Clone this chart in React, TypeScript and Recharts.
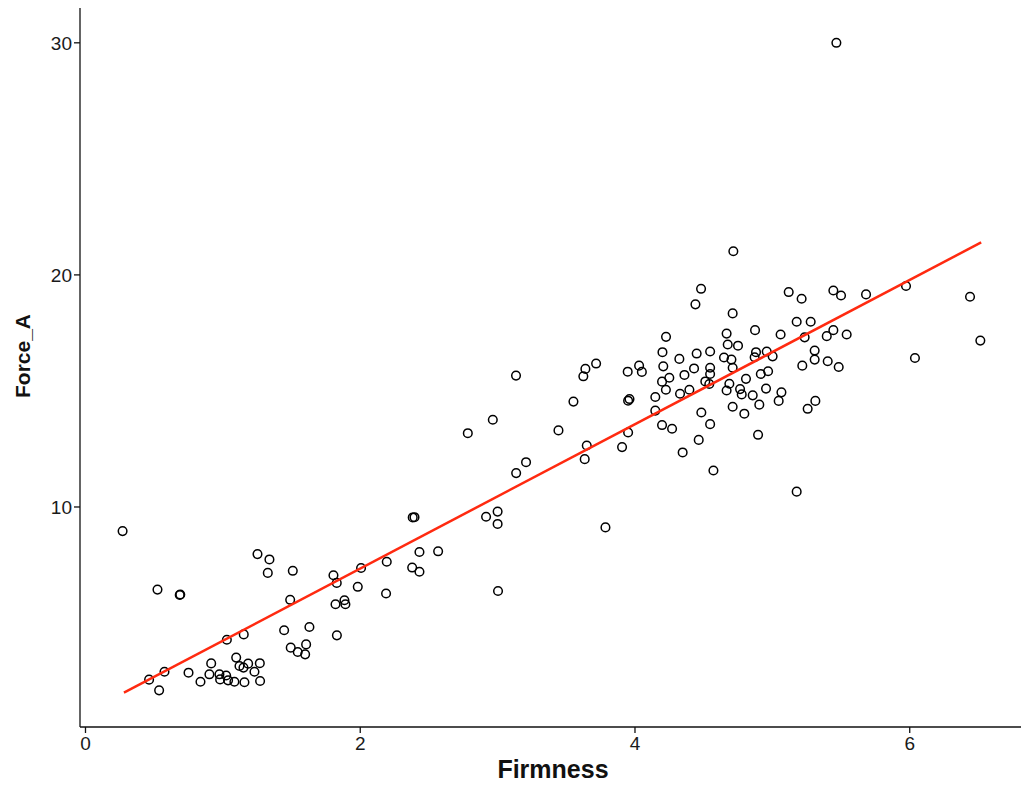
import { ScatterChart, Scatter, XAxis, YAxis } from 'recharts';

// Firmness (x) and Force_A (y)
const firmness = [
  0.27, 0.524, 0.686, 0.69, 1.252, 1.339, 1.327, 1.509, 1.49, 1.446, 1.494, 1.545, 1.606, 1.599, 1.63,
  1.029, 1.152, 0.915, 0.75, 0.575, 0.463, 0.536, 0.837, 0.902, 0.975, 0.98, 1.024, 1.038, 1.084, 1.157,
  1.097, 1.121, 1.15, 1.184, 1.23, 1.269, 1.271,
  1.805, 1.829, 2.006, 1.982, 1.82, 1.885, 1.892, 1.83, 2.193, 2.188, 2.382, 2.395, 2.431, 2.567, 2.378,
  2.431, 2.783, 2.965, 3.135, 3.207, 2.916, 3.0, 3.0, 3.003,
  3.134, 3.785, 3.443, 3.552, 3.624, 3.639, 3.717, 3.649, 3.634, 3.906, 3.95, 3.95, 3.96, 3.947, 4.03,
  4.05, 4.148, 4.148, 4.197, 4.2, 4.206, 4.197, 4.225,
  4.716, 4.481, 4.44, 4.711, 5.119, 5.213, 5.177, 5.279, 5.235, 5.308, 5.308, 5.218, 5.313, 5.257, 5.06,
  4.874, 4.667, 4.675, 4.75, 4.226, 4.323, 4.449, 4.547, 4.648, 4.702, 4.881, 4.959, 4.871, 5.002, 4.711,
  4.43, 4.547, 4.547, 4.36, 4.25, 4.512, 4.541, 4.396, 4.328, 4.27, 4.667, 4.687, 4.765, 4.777, 4.808,
  4.857, 4.916, 4.969, 4.954, 4.905, 5.066, 5.046, 4.711, 4.796, 4.483, 4.547, 4.464, 4.347, 4.896, 4.571,
  5.444, 5.5, 5.682, 5.973, 6.439, 6.514, 6.038, 5.396, 5.444, 5.541, 5.403, 5.483, 5.177, 5.466,
];

const forceA = [
  8.96, 6.44, 6.21, 6.23, 7.97, 7.74, 7.16, 7.25, 6.0, 4.69, 3.94, 3.75, 4.08, 3.65, 4.83,
  4.28, 4.51, 3.26, 2.86, 2.9, 2.56, 2.1, 2.47, 2.79, 2.79, 2.57, 2.74, 2.53, 2.47, 2.45,
  3.51, 3.15, 3.08, 3.25, 2.9, 3.27, 2.5,
  7.06, 6.73, 7.37, 6.56, 5.81, 5.98, 5.81, 4.47, 7.64, 6.27, 9.55, 9.56, 8.06, 8.09, 7.39,
  7.21, 13.18, 13.76, 11.46, 11.93, 9.58, 9.8, 9.27, 6.38,
  15.66, 9.12, 13.3, 14.54, 15.63, 15.95, 16.18, 12.65, 12.06, 12.58, 13.21, 14.58, 14.65, 15.83, 16.09,
  15.82, 14.74, 14.15, 13.53, 16.67, 16.06, 15.4, 15.05,
  21.02, 19.4, 18.73, 18.34, 19.26, 18.97, 17.98, 17.98, 17.31, 16.74, 16.35, 16.09, 14.57, 14.23, 17.43,
  17.62, 17.47, 17.0, 16.95, 17.33, 16.38, 16.61, 16.7, 16.44, 16.35, 16.67, 16.7, 16.45, 16.49, 16.0,
  15.97, 16.0, 15.73, 15.69, 15.57, 15.41, 15.3, 15.05, 14.88, 13.37, 15.02, 15.31, 15.08, 14.85, 15.52,
  14.81, 15.73, 15.85, 15.1, 14.41, 14.94, 14.57, 14.32, 14.02, 14.07, 13.57, 12.89, 12.35, 13.11, 11.57,
  19.33, 19.11, 19.16, 19.52, 19.06, 17.17, 16.42, 17.36, 17.62, 17.43, 16.28, 16.03, 10.66, 30.0,
];

// fitted line end points as drawn in the reference
const fitX = [0.28, 6.52];
const fitY = [2.0, 21.4];

const xTicks = [0, 2, 4, 6];
const yTicks = [10, 20, 30];

const points = firmness.map((x, i) => ({ x, y: forceA[i] }));
const fitLine = fitX.map((x, i) => ({ x, y: fitY[i] }));

const tickStyle = { fill: '#1a1a1a', fontSize: 19, fontFamily: 'Liberation Sans, Arial, sans-serif' };

const OpenCircle = (props: any) => (
  <circle cx={props.cx} cy={props.cy} r={4.3} fill="none" stroke="#000" strokeWidth={1.5} />
);

const NoDot = () => <g />;

const YTitle = () => (
  <text
    x={30}
    y={356}
    transform="rotate(-90 30 356)"
    textAnchor="middle"
    fontSize={21}
    fontWeight="bold"
    fontFamily="Liberation Sans, Arial, sans-serif"
    fill="#111"
  >
    Force_A
  </text>
);

const XTitle = () => (
  <text
    x={553}
    y={778}
    textAnchor="middle"
    fontSize={25}
    fontWeight="bold"
    fontFamily="Liberation Sans, Arial, sans-serif"
    fill="#111"
  >
    Firmness
  </text>
);

export default function App() {
  return (
    <div style={{ position: 'absolute', left: 0, top: 0, width: 1021, height: 788, background: '#fff' }}>
      <ScatterChart width={1021} height={788} margin={{ top: 8, right: 0, bottom: 0, left: 0 }}>
        <XAxis
          type="number"
          dataKey="x"
          domain={[-0.04, 6.81]}
          ticks={xTicks}
          allowDataOverflow
          height={61}
          tick={tickStyle}
          tickSize={6}
          tickMargin={4}
          axisLine={{ stroke: '#111', strokeWidth: 1.3 }}
          tickLine={{ stroke: '#111', strokeWidth: 1.3 }}
          label={{ content: <XTitle /> }}
        />
        <YAxis
          type="number"
          dataKey="y"
          domain={[0.52, 31.5]}
          ticks={yTicks}
          allowDataOverflow
          width={80}
          tick={tickStyle}
          tickSize={6}
          tickMargin={2}
          axisLine={{ stroke: '#111', strokeWidth: 1.3 }}
          tickLine={{ stroke: '#111', strokeWidth: 1.3 }}
          label={{ content: <YTitle /> }}
        />
        <Scatter data={points} shape={OpenCircle} isAnimationActive={false} />
        <Scatter
          data={fitLine}
          line={{ stroke: '#ff2a10', strokeWidth: 2.5 }}
          shape={NoDot}
          isAnimationActive={false}
        />
      </ScatterChart>
    </div>
  );
}
